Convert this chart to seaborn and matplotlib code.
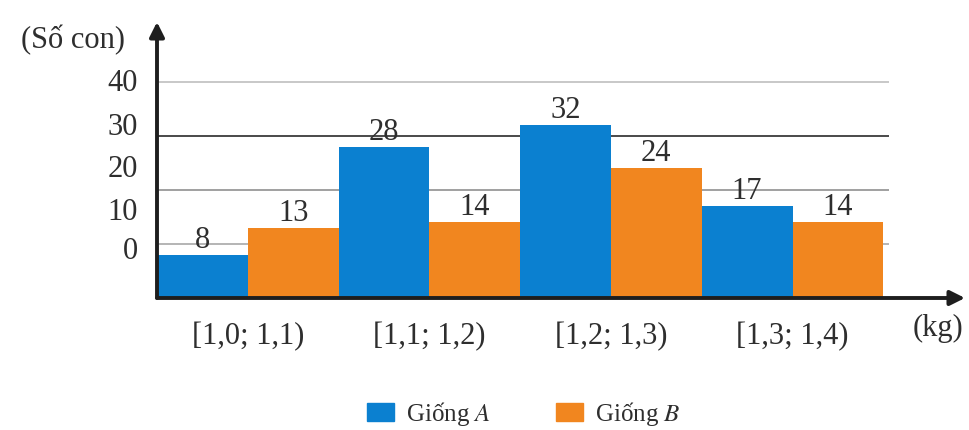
import matplotlib
matplotlib.use("Agg")
import matplotlib.pyplot as plt
import matplotlib.patches as mpatches
import seaborn as sns
import pandas as pd

# ---- data ----
categories = ["[1,0; 1,1)", "[1,1; 1,2)", "[1,2; 1,3)", "[1,3; 1,4)"]
giong_a = [8, 28, 32, 17]
giong_b = [13, 14, 24, 14]
series_names = ["Giống A", "Giống B"]
ytick_labels = ["0", "10", "20", "30", "40"]
grid_values = [10, 20, 30, 40]

df = pd.DataFrame({
    "cat": categories * 2,
    "giong": [series_names[0]] * 4 + [series_names[1]] * 4,
    "val": giong_a + giong_b,
})

# ---- style ----
sns.set_style("white")
plt.rcParams["font.family"] = ["Liberation Serif", "DejaVu Serif"]
plt.rcParams["mathtext.fontset"] = "stix"
BLUE = "#0b80d0"
ORANGE = "#f1861f"
AXC = "#1e1e1e"
TXT = "#2e2e2e"
FS = 22

fig = plt.figure(figsize=(9.69, 4.30), dpi=100)
ax = fig.add_axes([157/969, 1-298/430, (965-157)/969, (298-22)/430])

sns.barplot(data=df, x="cat", y="val", hue="giong", hue_order=series_names,
            palette=[BLUE, ORANGE], width=1.0, gap=0, linewidth=0,
            saturation=1, ax=ax, zorder=3, legend=False)

ax.set_xlim(-0.5, 3.95)
ax.set_ylim(0, 51.1)

# gridlines
grid_cols = ["#b4b4b4", "#a0a0a0", "#4a4a4a", "#c8c8c8"]
for v, c in zip(grid_values, grid_cols):
    ax.hlines(v, -0.5, 3.53, color=c, lw=1.4, zorder=1)

# bar labels
for cont in ax.containers:
    ax.bar_label(cont, fontsize=FS, padding=0, color=TXT)

# spines and arrows
for s in ax.spines.values():
    s.set_visible(False)
ax.annotate("", xy=(1.0, 0), xytext=(0, 0), xycoords="axes fraction",
            arrowprops=dict(arrowstyle="-|>", color=AXC, lw=2.8,
                            mutation_scale=22, shrinkA=0, shrinkB=0),
            annotation_clip=False, zorder=5)
ax.annotate("", xy=(0, 1.0), xytext=(0, 0), xycoords="axes fraction",
            arrowprops=dict(arrowstyle="-|>", color=AXC, lw=2.8,
                            mutation_scale=22, shrinkA=0, shrinkB=0),
            annotation_clip=False, zorder=5)

# ticks
ytick_pos = [9.3, 16.5, 24.4, 32.2, 40.4]
ax.set_yticks(ytick_pos)
ax.set_yticklabels(ytick_labels)
ax.tick_params(axis="y", length=0, pad=14, labelsize=FS, labelcolor=TXT)
ax.set_xticks(range(len(categories)))
ax.set_xticklabels(categories)
ax.tick_params(axis="x", length=0, pad=17, labelsize=FS, labelcolor=TXT)
ax.set_xlabel("")
ax.set_ylabel("")

fig.text(73/969, 1-40/430, "(Số con)", ha="center", va="center",
         fontsize=FS, color=TXT)
fig.text(938/969, 1-328/430, "(kg)", ha="center", va="center",
         fontsize=FS, color=TXT)

handles = [mpatches.Patch(color=BLUE, label="Giống $A$"),
           mpatches.Patch(color=ORANGE, label="Giống $B$")]
fig.legend(handles=handles, loc="center", bbox_to_anchor=(524/969, 1-414/430),
           ncol=2, frameon=False, fontsize=18, handlelength=1.08,
           handleheight=0.72, handletextpad=0.48, columnspacing=2.6,
           labelcolor=TXT)

fig.savefig("out.png", dpi=100)
